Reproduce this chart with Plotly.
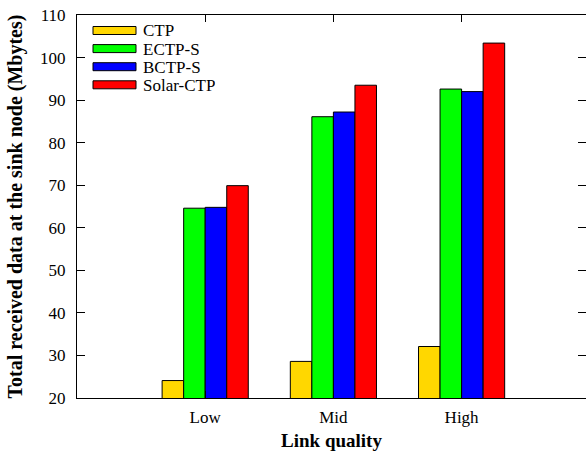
import plotly.graph_objects as go

categories = ["Low", "Mid", "High"]
series_names = ["CTP", "ECTP-S", "BCTP-S", "Solar-CTP"]
ctp = [24.1, 28.6, 32.1]
ectp_s = [64.6, 86.1, 92.6]
bctp_s = [64.8, 87.2, 92.0]
solar_ctp = [69.9, 93.5, 103.4]
series_values = [ctp, ectp_s, bctp_s, solar_ctp]
colors = ["#FFD700", "#00FF00", "#0000FF", "#FF0000"]
y_ticks = [20, 30, 40, 50, 60, 70, 80, 90, 100, 110]

W, H = 586, 453
ML, MR, MT, MB = 77, 0, 15, 55
PW, PH = W - ML - MR, H - MT - MB

FONT = "Liberation Serif"

fig = go.Figure()
for name, vals, col in zip(series_names, series_values, colors):
    fig.add_trace(go.Bar(
        x=categories, y=vals, name=name,
        marker=dict(color=col, line=dict(color="black", width=1)),
        showlegend=False,
    ))

# invisible trace for right-hand inward ticks
fig.add_trace(go.Scatter(x=[categories[0]], y=[y_ticks[0]], yaxis="y2",
                         mode="markers", marker=dict(opacity=0),
                         showlegend=False, hoverinfo="skip"))

# custom legend (layout decoration)
shapes = []
annotations = []
def px_x(p):
    return (p - ML) / PW
def px_y(p):
    return (H - MB - p) / PH

for i, (name, col) in enumerate(zip(series_names, colors)):
    yc = 30.5 + i * 18.1
    shapes.append(dict(type="rect", xref="paper", yref="paper",
                       x0=px_x(93), x1=px_x(136),
                       y0=px_y(yc + 4), y1=px_y(yc - 4),
                       fillcolor=col, line=dict(color="black", width=1)))
    annotations.append(dict(xref="paper", yref="paper", x=px_x(142), y=px_y(yc + 0.5),
                            text=name, showarrow=False, xanchor="left", yanchor="middle",
                            height=17, borderpad=0,
                            font=dict(family=FONT, size=17, color="black")))

fig.update_layout(
    width=W, height=H,
    margin=dict(l=ML, r=MR, t=MT, b=MB, autoexpand=False),
    paper_bgcolor="white", plot_bgcolor="white",
    barmode="group", bargap=0.328, bargroupgap=0,
    font=dict(family=FONT, size=17, color="black"),
    shapes=shapes, annotations=annotations,
    xaxis=dict(
        type="category", range=[-1, -1 + PW / 128.2], automargin=False,
        showline=True, linecolor="black", linewidth=1, mirror="ticks",
        ticks="inside", ticklen=7, tickcolor="black",
        showgrid=False, zeroline=False,
        tickfont=dict(family=FONT, size=17, color="black"),
        ticklabelstandoff=4,
        title=dict(text="<b>Link quality</b>", standoff=7,
                   font=dict(family=FONT, size=19, color="black")),
    ),
    yaxis=dict(
        range=[20, 110], tickvals=y_ticks, automargin=False,
        showline=True, linecolor="black", linewidth=1,
        ticks="inside", ticklen=8, tickcolor="black",
        showgrid=False, zeroline=False,
        tickfont=dict(family=FONT, size=17, color="black"),
        ticklabelstandoff=7,
        title=dict(text="<b>Total received data at the sink node (Mbytes)</b>", standoff=12,
                   font=dict(family=FONT, size=20, color="black")),
    ),
    yaxis2=dict(
        range=[20, 110], tickvals=y_ticks, overlaying="y", side="right",
        showline=False, ticks="inside", ticklen=8, tickcolor="black",
        showticklabels=False, showgrid=False, zeroline=False, automargin=False,
    ),
)

fig.write_html(
    "out.html",
    config={"displayModeBar": False},
    post_script="document.body.style.margin='0';document.body.style.overflow='hidden';",
)
